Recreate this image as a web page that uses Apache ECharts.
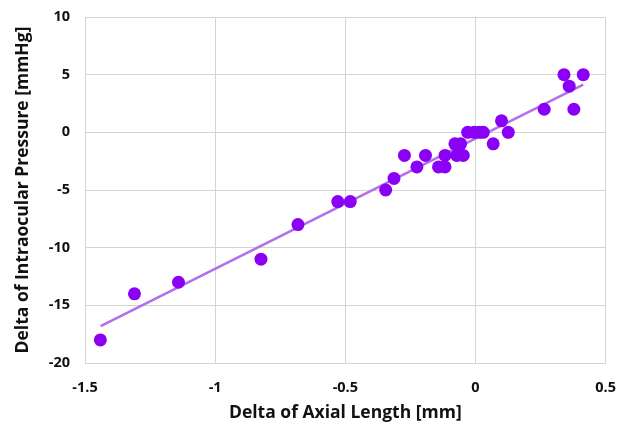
<!DOCTYPE html>
<html>
<head>
<meta charset="utf-8">
<script src="https://cdn.jsdelivr.net/npm/echarts@6/dist/echarts.min.js"></script>
<style>
  html, body { margin: 0; padding: 0; background: #fff; }
  #chart { width: 619px; height: 429px; }
</style>
</head>
<body>
<div id="chart"></div>
<script>
// axial length change (mm) vs IOP change (mmHg)
const axialDelta = [
  0.34, 0.414, 0.36, 0.378, 0.264, 0.10, 0.126, 0.068,
  -0.03, -0.005, 0.015, 0.03, -0.079, -0.057,
  -0.117, -0.072, -0.047, -0.273, -0.192,
  -0.225, -0.142, -0.117, -0.313, -0.345, -0.529, -0.481,
  -0.682, -0.824, -1.141, -1.31, -1.441
]
const iopDelta = [
  5, 5, 4, 2, 2, 1, 0, -1,
  0, 0, 0, 0, -1, -1,
  -2, -2, -2, -2, -2,
  -3, -3, -3, -4, -5, -6, -6,
  -8, -11, -13, -14, -18
]
// linear fit end points
const fitX = [-1.44, 0.414]
const fitY = [-16.8, 4.14]

const fontFamily = '"Open Sans", sans-serif'
const chart = echarts.init(document.getElementById('chart'))

chart.setOption({
  animation: false,
  grid: { left: 85, right: 9, top: 17, bottom: 66 },
  xAxis: {
    type: 'value',
    min: -1.5,
    max: 0.5,
    interval: 0.5,
    name: 'Delta of Axial Length [mm]',
    nameLocation: 'middle',
    nameGap: 41,
    nameTextStyle: { fontFamily, fontWeight: 'bold', fontSize: 17.5, color: '#111' },
    axisLine: { lineStyle: { color: '#d4d4d4' } },
    axisTick: { show: false },
    axisLabel: { fontFamily, fontWeight: 'bold', fontSize: 14.5, color: '#111', margin: 17 },
    splitLine: { show: true, lineStyle: { color: '#d4d4d4' } }
  },
  yAxis: {
    type: 'value',
    min: -20,
    max: 10,
    interval: 5,
    name: 'Delta of Intraocular Pressure [mmHg]',
    nameLocation: 'middle',
    nameGap: 53,
    nameTextStyle: { fontFamily, fontWeight: 'bold', fontSize: 17.5, color: '#111' },
    axisLine: { show: true, lineStyle: { color: '#d4d4d4' } },
    axisTick: { show: false },
    axisLabel: { fontFamily, fontWeight: 'bold', fontSize: 14.5, color: '#111', margin: 15 },
    splitLine: { show: true, lineStyle: { color: '#d4d4d4' } }
  },
  series: [
    {
      type: 'line',
      data: fitX.map((x, i) => [x, fitY[i]]),
      symbol: 'none',
      lineStyle: { color: '#b46ee8', width: 2.5 },
      z: 1
    },
    {
      type: 'scatter',
      data: axialDelta.map((x, i) => [x, iopDelta[i]]),
      symbolSize: 13,
      itemStyle: { color: '#8a00f5', opacity: 1 },
      z: 2
    }
  ]
})
</script>
</body>
</html>
